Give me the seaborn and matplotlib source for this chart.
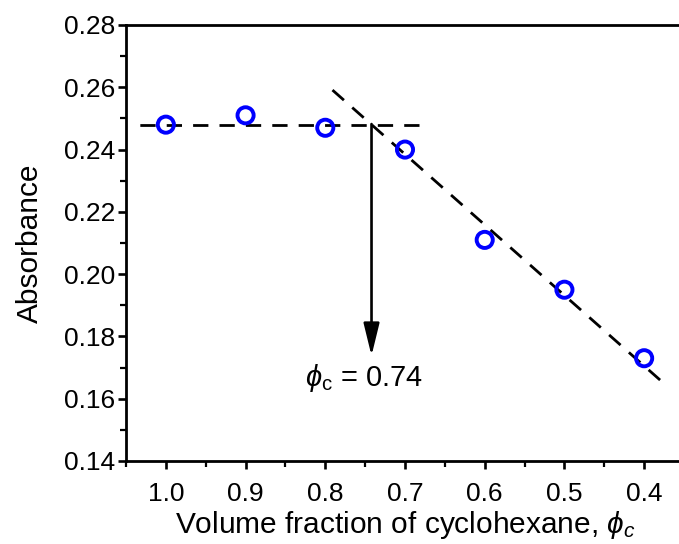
import matplotlib
matplotlib.use("Agg")
import matplotlib.pyplot as plt
import seaborn as sns
import pandas as pd

# Measured absorbance vs. volume fraction of cyclohexane
phi = [1.0, 0.9, 0.8, 0.7, 0.6, 0.5, 0.4]
absorbance = [0.248, 0.251, 0.247, 0.240, 0.211, 0.195, 0.173]

# Plateau level and linear decay fit (end points of the guide lines)
plateau_x = [1.04, 0.683]
plateau_y = [0.248, 0.248]
decay_x = [0.798, 0.38]
decay_y = [0.2607, 0.1660]

# Critical fraction read from the intersection
phi_crit = 0.742
crit_label = r"$\phi_{\rm c}$ = 0.74"

xticks = [1.0, 0.9, 0.8, 0.7, 0.6, 0.5, 0.4]
yticks = [0.14, 0.16, 0.18, 0.20, 0.22, 0.24, 0.26, 0.28]

sns.set_theme(style="ticks")
plt.rcParams["font.family"] = ["Liberation Sans", "DejaVu Sans"]
plt.rcParams["mathtext.fontset"] = "custom"
plt.rcParams["mathtext.rm"] = "Liberation Sans"
plt.rcParams["mathtext.it"] = "Liberation Sans:italic"
plt.rcParams["mathtext.sf"] = "Liberation Sans"
plt.rcParams["text.color"] = "black"
plt.rcParams["axes.labelcolor"] = "black"

fig = plt.figure(figsize=(6.79, 5.44), dpi=100)
ax = fig.add_axes([126 / 679, 83 / 544, 558 / 679, 436 / 544])

df = pd.DataFrame({"phi": phi, "A": absorbance})
line_kw = dict(color="black", linewidth=2.0, dashes=(5.5, 4.0), legend=False)
sns.lineplot(x=plateau_x, y=plateau_y, ax=ax, **line_kw)
sns.lineplot(x=decay_x, y=decay_y, ax=ax, **line_kw)
sns.scatterplot(data=df, x="phi", y="A", ax=ax, marker="o", s=135,
                facecolor="none", edgecolor="#0000ff", linewidth=2.8, zorder=5)

ax.annotate("", xy=(phi_crit, 0.1738), xytext=(phi_crit, 0.2482),
            arrowprops=dict(arrowstyle="-|>,head_length=0.9,head_width=0.22",
                            color="black", lw=1.9,
                            mutation_scale=22, shrinkA=0, shrinkB=0))
ax.text(0.826, 0.1668, crit_label, fontsize=21, va="center", ha="left")

ax.set_xlim(1.05, 0.35)
ax.set_ylim(0.14, 0.28)
ax.set_xticks(xticks)
ax.set_xticklabels([f"{v:.1f}" for v in xticks])
ax.set_yticks(yticks)
ax.set_yticklabels([f"{v:.2f}" for v in yticks])
ax.xaxis.set_minor_locator(matplotlib.ticker.MultipleLocator(0.05))
ax.yaxis.set_minor_locator(matplotlib.ticker.MultipleLocator(0.01))

ax.tick_params(which="major", direction="out", length=6, width=1.9,
               labelsize=19, colors="black")
ax.tick_params(which="minor", direction="out", length=4, width=1.6,
               colors="black")
ax.tick_params(axis="x", which="major", pad=9)
ax.tick_params(axis="y", which="major", pad=2)

for side in ["left", "bottom", "top"]:
    ax.spines[side].set_visible(True)
    ax.spines[side].set_linewidth(2.0)
    ax.spines[side].set_color("black")
ax.spines["right"].set_visible(False)

ax.set_xlabel(r"Volume fraction of cyclohexane, $\phi_c$", fontsize=21.5, labelpad=2)
ax.set_ylabel("Absorbance", fontsize=21.5, labelpad=14)

fig.savefig("out.png", dpi=100)
